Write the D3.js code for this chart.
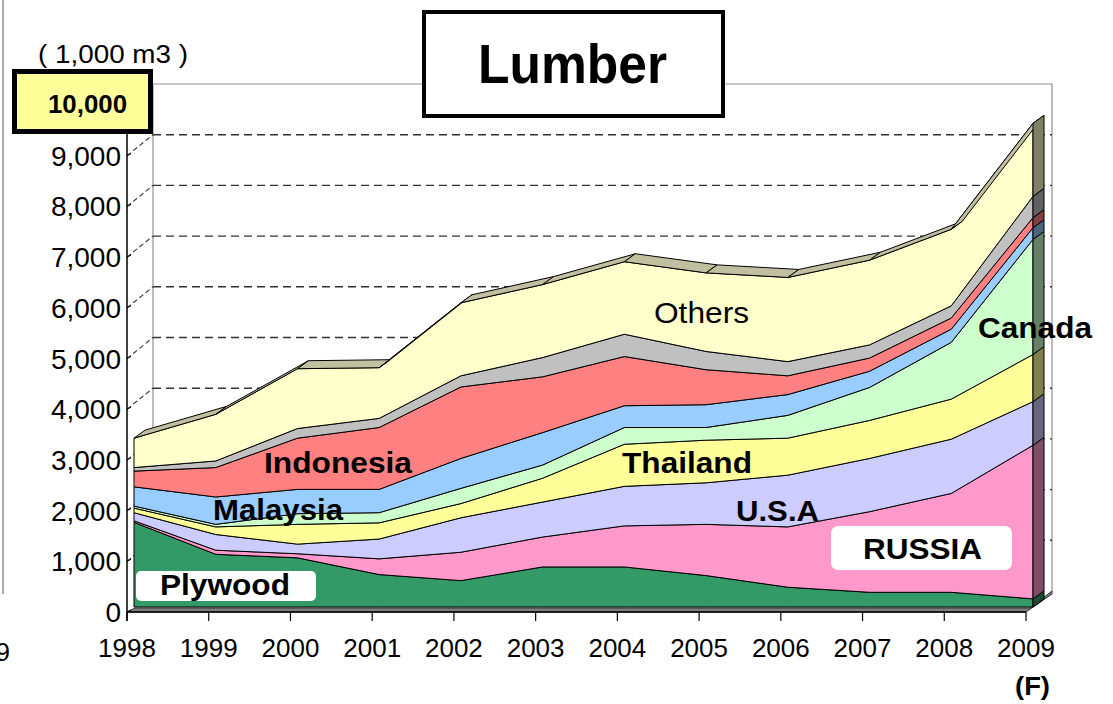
<!DOCTYPE html>
<html>
<head>
<meta charset="utf-8">
<script src="https://cdn.jsdelivr.net/npm/d3@7"></script>
<style>
  body { margin: 0; background: #fff; }
  svg { display: block; font-family: "Liberation Sans", Arial, sans-serif; }
</style>
</head>
<body>
<div id="chart"></div>
<script>
// data (1,000 m3)
const years = ["1998", "1999", "2000", "2001", "2002", "2003", "2004", "2005", "2006", "2007", "2008", "2009"];
const plywood   = [1670, 1040, 970, 640, 520, 790, 790, 620, 390, 290, 290, 160];
const russia    = [30, 80, 80, 310, 560, 590, 810, 1010, 1190, 1590, 1950, 3030];
const usa       = [160, 310, 190, 390, 680, 690, 780, 820, 1020, 1050, 1070, 860];
const thailand  = [90, 150, 390, 320, 280, 470, 830, 840, 730, 750, 790, 930];
const canada    = [40, 50, 210, 200, 300, 260, 330, 250, 450, 650, 1120, 2270];
const malaysia  = [380, 540, 480, 460, 590, 640, 430, 450, 410, 320, 260, 230];
const indonesia = [310, 580, 1010, 1220, 1410, 1100, 970, 690, 370, 260, 220, 200];
const unnamed   = [70, 130, 190, 180, 220, 380, 440, 360, 280, 260, 240, 420];
const others    = [580, 920, 1180, 1000, 1440, 1440, 1430, 1550, 1660, 1670, 1510, 1440];
const yTicks = [0, 1000, 2000, 3000, 4000, 5000, 6000, 7000, 8000, 9000];

const keys = ["plywood", "russia", "usa", "thailand", "canada", "malaysia", "indonesia", "unnamed", "others"];
const colors = {
  plywood: "#339966", russia: "#ff99cc", usa: "#ccccff", thailand: "#ffff99",
  canada: "#ccffcc", malaysia: "#99ccff", indonesia: "#ff8080", unnamed: "#c0c0c0", others: "#ffffcc"
};
const values = { plywood, russia, usa, thailand, canada, malaysia, indonesia, unnamed, others };
const rows = years.map((yr, i) => {
  const r = { year: yr };
  keys.forEach((k) => (r[k] = values[k][i]));
  return r;
});

const W = 1113, H = 704;
const svg = d3.select("#chart").append("svg").attr("width", W).attr("height", H);

const x = d3.scalePoint().domain(years).range([127, 1026]);
const y = d3.scaleLinear().domain([0, 10000]).range([612, 105]);

// 3d offsets: back wall, front and back of the area slab
const wall = [26, -21];
const front = [7, -5];
const back = [18, -13];

// neighbour chart edge, cut off on the left
svg.append("line").attr("x1", 3).attr("x2", 3).attr("y1", 0).attr("y2", 594)
  .attr("stroke", "#909090").attr("stroke-width", 1.5);
svg.append("text").attr("x", 10).attr("y", 661).attr("text-anchor", "end")
  .attr("font-size", 26).text("2009");

// back wall
const x0 = x(years[0]), x1 = x(years[years.length - 1]);
svg.append("path")
  .attr("d", `M${x0 + wall[0]},${y(0) + wall[1]}V${y(10000) + wall[1]}H${x1 + wall[0]}V${y(0) + wall[1]}`)
  .attr("fill", "none").attr("stroke", "#909090").attr("stroke-width", 1.2);

// gridlines on the wall + diagonal on the side
yTicks.filter((v) => v > 0).forEach((v) => {
  svg.append("line")
    .attr("x1", x0 + wall[0]).attr("x2", x1 + wall[0])
    .attr("y1", y(v) + wall[1]).attr("y2", y(v) + wall[1])
    .attr("stroke", "#333").attr("stroke-width", 1.4).attr("stroke-dasharray", "8,5");
  svg.append("line")
    .attr("x1", x0).attr("x2", x0 + wall[0])
    .attr("y1", y(v)).attr("y2", y(v) + wall[1])
    .attr("stroke", "#333").attr("stroke-width", 1.1).attr("stroke-dasharray", "5,3");
});

// floor
svg.append("path")
  .attr("d", `M${x0},${y(0)}L${x0 + 8},${y(0) - 4}H${x1 + 4}L${x1 + wall[0]},${y(0) + wall[1]}V${y(0) + wall[1] + 3}L${x1},${y(0)}Z`)
  .attr("fill", "#808080").attr("stroke", "#333").attr("stroke-width", 1);

// axes
svg.append("line").attr("x1", x0).attr("x2", x0).attr("y1", y(10000)).attr("y2", y(0) + 9)
  .attr("stroke", "#000").attr("stroke-width", 1.5);
svg.append("line").attr("x1", x0).attr("x2", x1).attr("y1", y(0)).attr("y2", y(0))
  .attr("stroke", "#000").attr("stroke-width", 1.5);

yTicks.forEach((v) => {
  svg.append("line").attr("x1", x0).attr("x2", x0 + 4).attr("y1", y(v)).attr("y2", y(v) - 2)
    .attr("stroke", "#000");
  svg.append("text").attr("x", 121).attr("y", y(v) + 10).attr("text-anchor", "end")
    .attr("font-size", 28).text(d3.format(",")(v));
});

years.forEach((yr) => {
  svg.append("line").attr("x1", x(yr)).attr("x2", x(yr)).attr("y1", y(0)).attr("y2", y(0) + 9)
    .attr("stroke", "#000").attr("stroke-width", 1.2);
  svg.append("text").attr("x", x(yr)).attr("y", 657).attr("text-anchor", "middle")
    .attr("font-size", 26).text(yr);
});

// stacked slab
const stacked = d3.stack().keys(keys)(rows);

const area = d3.area()
  .x((d) => x(d.data.year) + front[0])
  .y0((d) => y(d[0]) + front[1])
  .y1((d) => y(d[1]) + front[1]);

const slab = svg.append("g");
stacked.forEach((layer) => {
  slab.append("path").datum(layer)
    .attr("d", area)
    .attr("fill", colors[layer.key])
    .attr("stroke", "#000").attr("stroke-width", 1).attr("stroke-linejoin", "round");
});

// top surface
const topLayer = stacked[stacked.length - 1];
for (let i = 0; i < topLayer.length - 1; i++) {
  const a = topLayer[i], b = topLayer[i + 1];
  const pts = [
    [x(a.data.year) + front[0], y(a[1]) + front[1]],
    [x(b.data.year) + front[0], y(b[1]) + front[1]],
    [x(b.data.year) + back[0], y(b[1]) + back[1]],
    [x(a.data.year) + back[0], y(a[1]) + back[1]],
  ];
  slab.append("path").attr("d", "M" + pts.join("L") + "Z")
    .attr("fill", "#c0c0a0").attr("stroke", "#000").attr("stroke-width", 1).attr("stroke-linejoin", "round");
}

// right side of the slab at the last year
stacked.forEach((layer) => {
  const d = layer[layer.length - 1];
  const xx = x(d.data.year);
  const c = d3.rgb(colors[layer.key]);
  const dark = d3.rgb(c.r * 0.5, c.g * 0.5, c.b * 0.5);
  const pts = [
    [xx + front[0], y(d[0]) + front[1]],
    [xx + front[0], y(d[1]) + front[1]],
    [xx + back[0], y(d[1]) + back[1]],
    [xx + back[0], y(d[0]) + back[1]],
  ];
  slab.append("path").attr("d", "M" + pts.join("L") + "Z")
    .attr("fill", dark).attr("stroke", "#000").attr("stroke-width", 1);
});

// labels
function label(txt, cx, base, size, weight, len, anchor) {
  svg.append("text")
    .attr("x", cx).attr("y", base)
    .attr("text-anchor", anchor || "middle")
    .attr("font-size", size).attr("font-weight", weight)
    .attr("textLength", len).attr("lengthAdjust", "spacingAndGlyphs")
    .text(txt);
}

svg.append("rect").attr("x", 136).attr("y", 571).attr("width", 180).attr("height", 30)
  .attr("rx", 5).attr("fill", "#fff");
svg.append("rect").attr("x", 831).attr("y", 526).attr("width", 181).attr("height", 44)
  .attr("rx", 7).attr("fill", "#fff");

label("Indonesia", 338, 473, 29, "bold", 148);
label("Malaysia", 278, 520, 29, "bold", 130);
label("Thailand", 687, 473, 29, "bold", 130);
label("U.S.A", 777.5, 520.5, 29, "bold", 83);
label("RUSSIA", 922.5, 559, 29, "bold", 119);
label("Canada", 1035, 338, 29, "bold", 114);
label("Others", 701.5, 323, 30, "normal", 95);
label("Plywood", 225, 595, 29, "bold", 130);
label("(F)", 1032.5, 695, 26, "bold", 35);

// unit and the 10,000 box
label("( 1,000 m3 )", 38, 63, 26, "normal", 150, "start");
svg.append("rect").attr("x", 14.5).attr("y", 71.5).attr("width", 136).attr("height", 60)
  .attr("fill", "#ffff99").attr("stroke", "#000").attr("stroke-width", 5);
label("10,000", 87.5, 113, 26, "bold", 79);

// title
svg.append("rect").attr("x", 424).attr("y", 12).attr("width", 299).attr("height", 104)
  .attr("fill", "#fff").attr("stroke", "#000").attr("stroke-width", 4);
label("Lumber", 572.5, 83, 55, "bold", 189);
</script>
</body>
</html>
